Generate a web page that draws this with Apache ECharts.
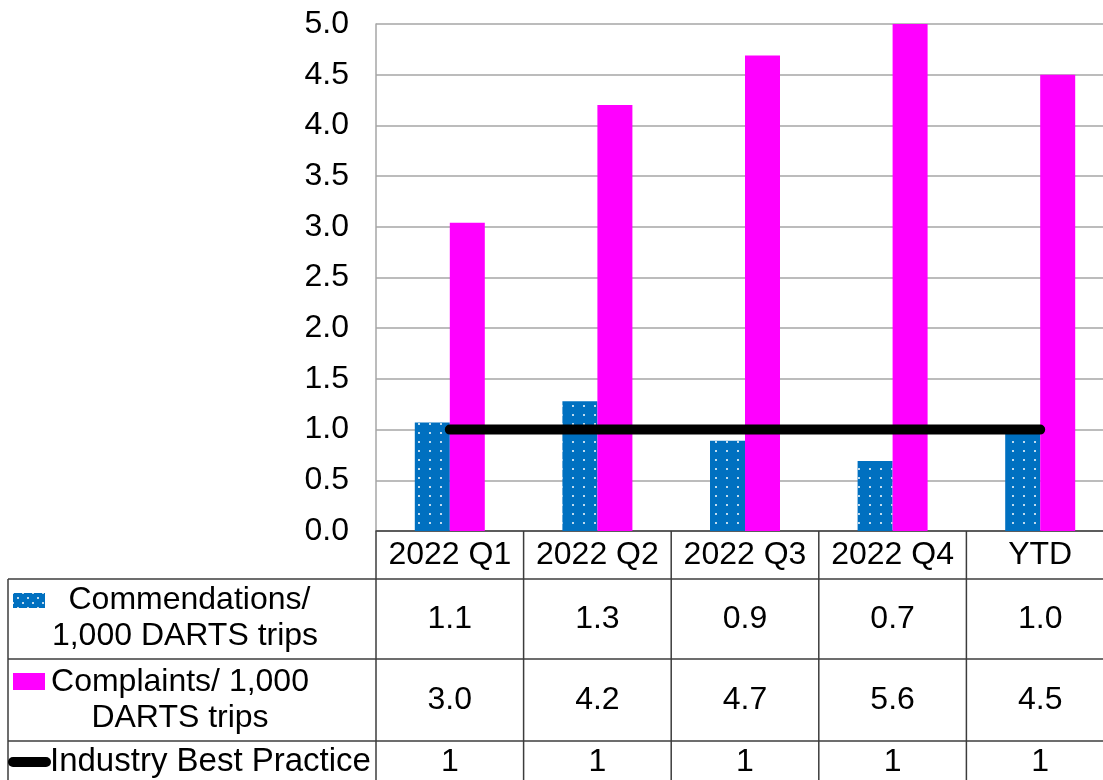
<!DOCTYPE html>
<html>
<head>
<meta charset="utf-8">
<script src="https://cdn.jsdelivr.net/npm/echarts@6/dist/echarts.min.js"></script>
<style>
html,body{margin:0;padding:0;background:#fff;}
#main{width:1103px;height:780px;}
</style>
</head>
<body>
<div id="main"></div>
<script>
const categories = ['2022 Q1', '2022 Q2', '2022 Q3', '2022 Q4', 'YTD'];
const commendations = [1.07, 1.28, 0.89, 0.69, 1.0];
const complaints = [3.04, 4.2, 4.69, 5.6, 4.5];
const bestPractice = [1, 1, 1, 1, 1];
const seriesNames = ['Commendations/ 1,000 DARTS trips', 'Complaints/ 1,000 DARTS trips', 'Industry Best Practice'];
const legendLabels = [' Commendations/\n1,000 DARTS trips', 'Complaints/ 1,000\nDARTS trips', 'Industry Best Practice'];
const tableRows = [
  commendations.map(v => v.toFixed(1)),
  complaints.map(v => v.toFixed(1)),
  bestPractice.map(v => String(v))
];

const FONT = 'Liberation Sans, Arial, sans-serif';
const FS = 32;
const BLUE = '#0070C0';
const MAGENTA = '#FF00FF';
const BORDER = '#3c3c3c';

const chart = echarts.init(document.getElementById('main'), null, {renderer: 'canvas'});

const option = {
  animation: false,
  backgroundColor: '#fff',
  textStyle: {fontFamily: FONT},
  grid: {left: 376, width: 738, top: 24, bottom: 249, containLabel: false, outerBoundsMode: 'none'},
  xAxis: {
    type: 'category',
    data: categories,
    axisLine: {show: true, lineStyle: {color: BORDER, width: 1.5}},
    axisTick: {show: false},
    axisLabel: {fontSize: FS, color: '#000', margin: 8, fontFamily: FONT, interval: 0, hideOverlap: false},
    splitLine: {show: false}
  },
  yAxis: {
    type: 'value',
    min: 0, max: 5, interval: 0.5,
    axisLine: {show: true, lineStyle: {color: '#a6a6a6', width: 1.5}},
    axisTick: {show: false},
    axisLabel: {fontSize: FS, color: '#000', margin: 27, fontFamily: FONT, formatter: v => v.toFixed(1)},
    splitLine: {show: true, lineStyle: {color: '#a6a6a6', width: 1.5}}
  },
  series: [
    {
      name: seriesNames[0], type: 'bar', data: commendations,
      barWidth: 35, barGap: '0%',
      itemStyle: {
        color: BLUE,
        decal: {symbol: 'circle', symbolSize: 1, color: '#ffffff', dashArrayX: [2, 9], dashArrayY: [2, 7], rotation: 0}
      }
    },
    {
      name: seriesNames[1], type: 'bar', data: complaints,
      barWidth: 35, barGap: '0%',
      itemStyle: {color: MAGENTA}
    },
    {
      name: seriesNames[2], type: 'line', data: bestPractice,
      symbol: 'none', z: 5,
      lineStyle: {color: '#000', width: 10, cap: 'round'}
    }
  ]
};
chart.setOption(option);

// Build data table below the plot using the axis scale
const centers = categories.map((_, i) => chart.convertToPixel({xAxisIndex: 0}, i));
const band = centers[1] - centers[0];
const y0 = chart.convertToPixel({yAxisIndex: 0}, 0);
const rowLines = [579, 659, 741];
const tableBottom = 790;
const tableLeft = 8;
const rowCenters = [619, 700, 762];

const graphics = [];
const lineStyle = {stroke: BORDER, lineWidth: 1.5};
rowLines.forEach(y => {
  graphics.push({type: 'line', shape: {x1: tableLeft, y1: y, x2: 1110, y2: y}, style: lineStyle, silent: true});
});
graphics.push({type: 'line', shape: {x1: tableLeft, y1: rowLines[0], x2: tableLeft, y2: tableBottom}, style: lineStyle});
centers.forEach((c, i) => {
  const xb = c - band / 2;
  graphics.push({type: 'line', shape: {x1: xb, y1: y0, x2: xb, y2: tableBottom}, style: lineStyle});
});
graphics.push({type: 'line', shape: {x1: centers[4] + band / 2, y1: y0, x2: centers[4] + band / 2, y2: tableBottom}, style: lineStyle});

tableRows.forEach((row, r) => {
  row.forEach((txt, i) => {
    graphics.push({
      type: 'text', x: centers[i], y: rowCenters[r],
      style: {text: txt, fontSize: FS, fontFamily: FONT, fill: '#000', align: 'center', verticalAlign: 'middle'}
    });
  });
});

// legend keys in the header column
const pc = document.createElement('canvas');
pc.width = 10; pc.height = 10;
const pctx = pc.getContext('2d');
pctx.fillStyle = BLUE; pctx.fillRect(0, 0, 10, 10);
pctx.fillStyle = '#fff';
pctx.beginPath(); pctx.arc(3, 3, 1, 0, Math.PI * 2); pctx.fill();
pctx.beginPath(); pctx.arc(8, 8, 1, 0, Math.PI * 2); pctx.fill();

graphics.push({type: 'rect', shape: {x: 13, y: 593, width: 32, height: 15}, style: {fill: {image: pc, repeat: 'repeat'}}});
graphics.push({type: 'rect', shape: {x: 13, y: 673, width: 32, height: 17}, style: {fill: MAGENTA}});
graphics.push({type: 'line', shape: {x1: 13, y1: 762, x2: 46, y2: 762}, style: {stroke: '#000', lineWidth: 10, lineCap: 'round'}});

graphics.push({type: 'text', x: 185, y: 618, style: {text: legendLabels[0], fontSize: FS, fontFamily: FONT, fill: '#000', align: 'center', verticalAlign: 'middle', lineHeight: 36}});
graphics.push({type: 'text', x: 180, y: 700, style: {text: legendLabels[1], fontSize: FS, fontFamily: FONT, fill: '#000', align: 'center', verticalAlign: 'middle', lineHeight: 36}});
graphics.push({type: 'text', x: 50, y: 762, style: {text: legendLabels[2], fontSize: 33, fontFamily: FONT, fill: '#000', align: 'left', verticalAlign: 'middle'}});

chart.setOption({graphic: graphics});
</script>
</body>
</html>
